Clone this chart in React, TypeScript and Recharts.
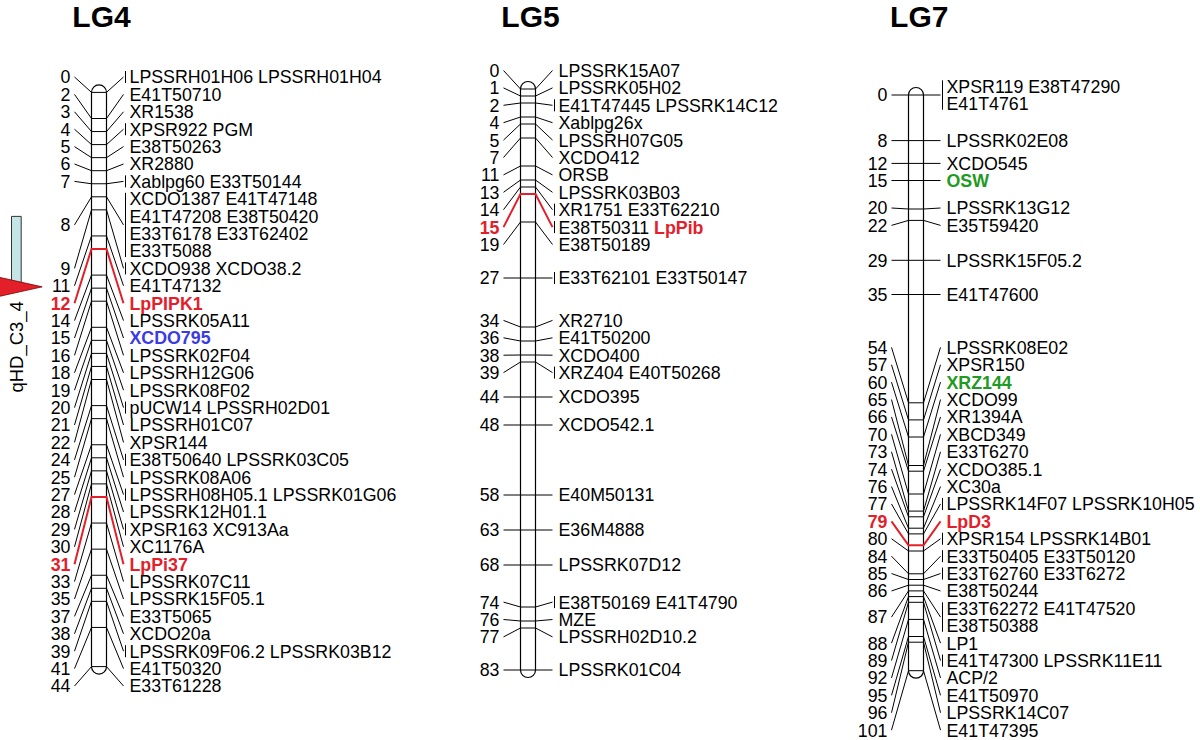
import React from 'react';
import { ComposedChart, Line, Scatter, XAxis, YAxis, ReferenceArea } from 'recharts';

const LG4_CM = [0, 2, 3, 4, 5, 6, 7, 8, 9, 11, 12, 14, 15, 16, 18, 19, 20, 21, 22, 24, 25, 27, 28, 29, 30, 31, 33, 35, 37, 38, 39, 41, 44];
const LG4_LOCI = [
  'LPSSRH01H06 LPSSRH01H04', 'E41T50710', 'XR1538', 'XPSR922 PGM', 'E38T50263', 'XR2880', 'Xablpg60 E33T50144',
  'XCDO1387 E41T47148|E41T47208 E38T50420|E33T6178 E33T62402|E33T5088',
  'XCDO938 XCDO38.2', 'E41T47132', 'LpPIPK1', 'LPSSRK05A11', 'XCDO795', 'LPSSRK02F04', 'LPSSRH12G06', 'LPSSRK08F02',
  'pUCW14 LPSSRH02D01', 'LPSSRH01C07', 'XPSR144', 'E38T50640 LPSSRK03C05', 'LPSSRK08A06', 'LPSSRH08H05.1 LPSSRK01G06',
  'LPSSRK12H01.1', 'XPSR163 XC913Aa', 'XC1176A', 'LpPi37', 'LPSSRK07C11', 'LPSSRK15F05.1', 'E33T5065', 'XCDO20a',
  'LPSSRK09F06.2 LPSSRK03B12', 'E41T50320', 'E33T61228',
];

const LG5_CM = [0, 1, 2, 4, 5, 7, 11, 13, 14, 15, 19, 27, 34, 36, 38, 39, 44, 48, 58, 63, 68, 74, 76, 77, 83];
const LG5_LOCI = [
  'LPSSRK15A07', 'LPSSRK05H02', 'E41T47445 LPSSRK14C12', 'Xablpg26x', 'LPSSRH07G05', 'XCDO412', 'ORSB', 'LPSSRK03B03',
  'XR1751 E33T62210', 'E38T50311 LpPib', 'E38T50189', 'E33T62101 E33T50147', 'XR2710', 'E41T50200', 'XCDO400',
  'XRZ404 E40T50268', 'XCDO395', 'XCDO542.1', 'E40M50131', 'E36M4888', 'LPSSRK07D12', 'E38T50169 E41T4790', 'MZE',
  'LPSSRH02D10.2', 'LPSSRK01C04',
];

const LG7_CM = [0, 8, 12, 15, 20, 22, 29, 35, 54, 57, 60, 65, 66, 70, 73, 74, 76, 77, 79, 80, 84, 85, 86, 87, 88, 89, 92, 95, 96, 101];
const LG7_LOCI = [
  'XPSR119 E38T47290|E41T4761', 'LPSSRK02E08', 'XCDO545', 'OSW', 'LPSSRK13G12', 'E35T59420', 'LPSSRK15F05.2', 'E41T47600',
  'LPSSRK08E02', 'XPSR150', 'XRZ144', 'XCDO99', 'XR1394A', 'XBCD349', 'E33T6270', 'XCDO385.1', 'XC30a',
  'LPSSRK14F07 LPSSRK10H05', 'LpD3', 'XPSR154 LPSSRK14B01', 'E33T50405 E33T50120', 'E33T62760 E33T6272', 'E38T50244',
  'E33T62272 E41T47520|E38T50388', 'LP1', 'E41T47300 LPSSRK11E11', 'ACP/2', 'E41T50970', 'LPSSRK14C07', 'E41T47395',
];

const RED_LOCI = ['LpPIPK1', 'LpPi37', 'LpPib', 'LpD3'];
const BLUE_LOCI = ['XCDO795'];
const GREEN_LOCI = ['OSW', 'XRZ144'];

const QTL_NAME = 'qHD_C3_4';
const QTL_FROM = 9.5;
const QTL_PEAK = 14.9;

// ---------- style / layout ----------
const RED = '#e3202a';
const BLUE = '#3b3be3';
const GREEN = '#1f9a22';
const FONT = '"Liberation Sans", Arial, Helvetica, sans-serif';
const FONT_SIZE = 17.8;
const ROW_PX = 17.4;
const HALF_W = 7.5;
const LEFT_LEN = 17;
const RIGHT_LEN = 17;
const LEFT_GAP = 4;
const RIGHT_GAP = 6;
const CHART_W = 500;
const CHART_H = 740;
const X_LEFT = 100;
const CLUSTER_SHIFT_PX = 2;

type ChromDef = { name: string; cm: number[]; loci: string[]; center: number; y0: number; y1: number; qtl: boolean };

const CHROMS: ChromDef[] = [
  { name: 'LG4', cm: LG4_CM, loci: LG4_LOCI, center: 98.5, y0: 92.4, y1: 666.6, qtl: true },
  { name: 'LG5', cm: LG5_CM, loci: LG5_LOCI, center: 527.5, y0: 89, y1: 670, qtl: false },
  { name: 'LG7', cm: LG7_CM, loci: LG7_LOCI, center: 916.3, y0: 95, y1: 670.7, qtl: false },
];

const nameColor = (n: string) =>
  RED_LOCI.includes(n) ? RED : BLUE_LOCI.includes(n) ? BLUE : GREEN_LOCI.includes(n) ? GREEN : '#000';
const isBold = (n: string) => RED_LOCI.includes(n) || BLUE_LOCI.includes(n) || GREEN_LOCI.includes(n);

// Label de-overlap (clusters of crowded labels, centred between first and last locus)
function spreadLabels(cms: number[], rows: number[], rowCm: number, shiftCm: number): number[] {
  type Cl = { a: number; b: number; n: number; c: number };
  const cl: Cl[] = cms.map((c, i) => ({ a: i, b: i, n: rows[i], c }));
  const tol = rowCm * 0.05;
  let merged = true;
  while (merged) {
    merged = false;
    for (let j = 0; j + 1 < cl.length; j++) {
      const p = cl[j];
      const q = cl[j + 1];
      if (q.c - (q.n * rowCm) / 2 - (p.c + (p.n * rowCm) / 2) < -tol) {
        cl.splice(j, 2, { a: p.a, b: q.b, n: p.n + q.n, c: (cms[p.a] + cms[q.b]) / 2 + shiftCm });
        merged = true;
        break;
      }
    }
  }
  const out: number[] = new Array(cms.length).fill(0);
  cl.forEach((k) => {
    const top = k.c - (k.n * rowCm) / 2;
    let acc = 0;
    for (let i = k.a; i <= k.b; i++) {
      out[i] = top + (acc + rows[i] / 2) * rowCm;
      acc += rows[i];
    }
  });
  return out;
}

const CapShape = (p: any) => {
  const { cx, cy, payload } = p;
  const top = payload.end === 'top';
  return (
    <path
      d={`M${cx - HALF_W},${cy} A${HALF_W},${HALF_W} 0 0 ${top ? 1 : 0} ${cx + HALF_W},${cy}`}
      fill="none"
      stroke="#000"
      strokeWidth={1.2}
    />
  );
};

const TriShape = (p: any) => {
  const { cx, cy } = p;
  return (
    <g>
      <polygon points={`${cx},${cy} ${cx - 45},${cy - 10} ${cx - 45},${cy + 10}`} fill={RED} stroke="#7a0000" strokeWidth={0.8} />
      <text
        transform={`translate(${cx - 26},${cy + 60}) rotate(-90)`}
        textAnchor="middle"
        dy="0.36em"
        fontFamily={FONT}
        fontSize={18.5}
        fill="#000"
      >
        {QTL_NAME}
      </text>
    </g>
  );
};

const LabelShape = (p: any) => {
  const { cx, cy, payload: g } = p;
  const n = g.rows.length;
  const xr = cx + HALF_W + RIGHT_LEN + RIGHT_GAP;
  const xl = cx - HALF_W - LEFT_LEN - LEFT_GAP;
  return (
    <g fontFamily={FONT} fontSize={FONT_SIZE}>
      <text x={xl} y={cy} dy="0.36em" textAnchor="end" fill={g.red ? RED : '#000'} fontWeight={g.red ? 'bold' : 'normal'}>
        {g.c}
      </text>
      {g.multi && (
        <line
          x1={xr - 4}
          x2={xr - 4}
          y1={cy - ((n - 1) / 2) * ROW_PX - 6}
          y2={cy + ((n - 1) / 2) * ROW_PX + 6}
          stroke="#000"
          strokeWidth={1}
        />
      )}
      {g.rows.map((names: string[], r: number) => (
        <text key={r} x={xr} y={cy + (r - (n - 1) / 2) * ROW_PX} dy="0.36em" fill="#000">
          {names.map((nm: string, j: number) => (
            <tspan key={j} fill={nameColor(nm)} fontWeight={isBold(nm) ? 'bold' : 'normal'}>
              {(j > 0 ? ' ' : '') + nm}
            </tspan>
          ))}
        </text>
      ))}
    </g>
  );
};

function Chromosome({ def }: { def: ChromDef }) {
  const maxCm = def.cm[def.cm.length - 1];
  const k = (def.y1 - def.y0) / maxCm;
  const domain: [number, number] = [-def.y0 / k, (CHART_H - def.y0) / k];
  const groups = def.cm.map((c, i) => {
    const rows = def.loci[i].split('|').map((r) => r.split(' '));
    const all = rows.flat();
    return { c, rows, red: all.some((n) => RED_LOCI.includes(n)), multi: all.length > 1 };
  });
  const labelCm = spreadLabels(
    def.cm,
    groups.map((g) => g.rows.length),
    ROW_PX / k,
    CLUSTER_SHIFT_PX / k,
  );
  const labels = groups.map((g, i) => ({ ...g, x: 0, y: labelCm[i] }));
  const conn = (sel: typeof labels) =>
    sel.flatMap((g) => [
      { x: -HALF_W - LEFT_LEN, y: g.y },
      { x: -HALF_W, y: g.c },
      { x: HALF_W, y: g.c },
      { x: HALF_W + RIGHT_LEN, y: g.y },
      { x: 0, y: null },
    ]);
  const blackConn = conn(labels.filter((g) => !g.red));
  const redConn = conn(labels.filter((g) => g.red));
  const sides = [
    { x: -HALF_W, y: 0 },
    { x: -HALF_W, y: maxCm },
    { x: 0, y: null },
    { x: HALF_W, y: 0 },
    { x: HALF_W, y: maxCm },
  ];
  const caps = [
    { x: 0, y: 0, end: 'top' },
    { x: 0, y: maxCm, end: 'bottom' },
  ];
  return (
    <ComposedChart width={CHART_W} height={CHART_H} margin={{ top: 0, right: 0, bottom: 0, left: 0 }}>
      <XAxis type="number" dataKey="x" domain={[-X_LEFT, CHART_W - X_LEFT]} hide />
      <YAxis type="number" domain={domain} reversed hide />
      {def.qtl && (
        <ReferenceArea x1={-87.5} x2={-77.8} y1={QTL_FROM} y2={QTL_PEAK} fill="#c4e4e6" fillOpacity={1} stroke="#333" strokeWidth={1} />
      )}
      <Line data={sides} dataKey="y" stroke="#000" strokeWidth={1.2} dot={false} activeDot={false} isAnimationActive={false} type="linear" />
      <Line data={blackConn} dataKey="y" stroke="#000" strokeWidth={1} dot={false} activeDot={false} isAnimationActive={false} type="linear" />
      <Line data={redConn} dataKey="y" stroke={RED} strokeWidth={2} dot={false} activeDot={false} isAnimationActive={false} type="linear" />
      <Scatter data={caps} dataKey="y" shape={CapShape} isAnimationActive={false} />
      {def.qtl && <Scatter data={[{ x: -56.8, y: QTL_PEAK }]} dataKey="y" shape={TriShape} isAnimationActive={false} />}
      <Scatter data={labels} dataKey="y" shape={LabelShape} isAnimationActive={false} />
    </ComposedChart>
  );
}

export default function App() {
  return (
    <div style={{ position: 'absolute', left: 0, top: 0, width: 1200, height: 740, overflow: 'hidden', background: '#fff' }}>
      {CHROMS.map((c) => (
        <div key={c.name} style={{ position: 'absolute', left: c.center - X_LEFT, top: 0 }}>
          <Chromosome def={c} />
        </div>
      ))}
      <svg width={1200} height={740} style={{ position: 'absolute', left: 0, top: 0, pointerEvents: 'none' }}>
        {CHROMS.map((c) => (
          <text key={c.name} x={c.center + 3} y={27} textAnchor="middle" fontFamily={FONT} fontWeight="bold" fontSize={30} fill="#000">
            {c.name}
          </text>
        ))}
      </svg>
    </div>
  );
}
